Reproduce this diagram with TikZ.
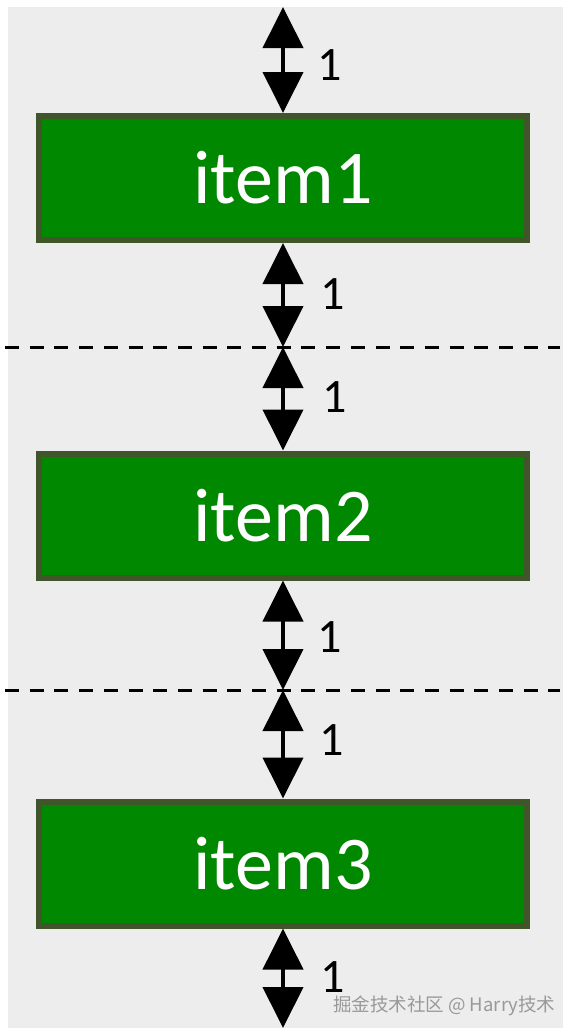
\documentclass[tikz,border=0pt]{standalone}
\usepackage{fontspec}
\setmainfont{Carlito}
\newfontfamily\cjkwm{Noto Sans CJK SC}
\usetikzlibrary{arrows.meta}
\definecolor{bggrey}{HTML}{EDEDED}
\definecolor{boxfill}{HTML}{008800}
\definecolor{boxedge}{HTML}{41552B}
\tikzset{
  itembox/.style={draw=boxedge, line width=6pt, fill=boxfill, minimum width=488pt, minimum height=124pt, inner sep=0pt, outer sep=3pt, text=white, font=\fontsize{76}{80}\selectfont},
  dimarrow/.style={line width=4pt, >={Triangle[length=41pt,width=40pt]}, <->},
  dimlabel/.style={inner sep=0pt, font=\fontsize{48}{50}\selectfont},
  sepline/.style={dash pattern=on 14pt off 10.7pt, line width=3pt}
}
\begin{document}
\begin{tikzpicture}[x=1pt,y=-1pt]
\useasboundingbox (0,0) rectangle (571,1036);
\fill[white] (0,0) rectangle (571,1036);
\fill[bggrey] (8,7) rectangle (563,1028);
% separator lines
\coordinate (d1l) at (5,347);
\coordinate (d1r) at (560,347);
\coordinate (d1c) at (283,347);
\coordinate (d2l) at (5,690);
\coordinate (d2r) at (560,690);
\coordinate (d2c) at (283,690);
\draw[sepline] (d1l) -- (d1r);
\draw[sepline] (d2l) -- (d2r);
% boxes
\node[itembox] (b1) at (283,178) {item1};
\node[itembox] (b2) at (283,515.5) {item2};
\node[itembox] (b3) at (283,863.5) {item3};
\coordinate (top) at (283,7);
\coordinate (bot) at (283,1028);
% arrows
\draw[dimarrow] (top) -- (b1.north);
\draw[dimarrow] (b1.south) -- (d1c);
\draw[dimarrow] (d1c) -- (b2.north);
\draw[dimarrow] (b2.south) -- (d2c);
\draw[dimarrow] (d2c) -- (b3.north);
\draw[dimarrow] (b3.south) -- (bot);
% labels
\node[dimlabel] (l1) at (330,65) {1};
\node[dimlabel] (l2) at (333,294) {1};
\node[dimlabel] (l3) at (335,397) {1};
\node[dimlabel] (l4) at (330,637) {1};
\node[dimlabel] (l5) at (332,740) {1};
\node[dimlabel] (l6) at (333,977) {1};
% watermark
\node[inner sep=0pt, anchor=west, text=black!40, font=\cjkwm\fontsize{18.5}{20}\selectfont] (wm) at (333,1006) {掘金技术社区 @ Harry技术};
\end{tikzpicture}
\end{document}
